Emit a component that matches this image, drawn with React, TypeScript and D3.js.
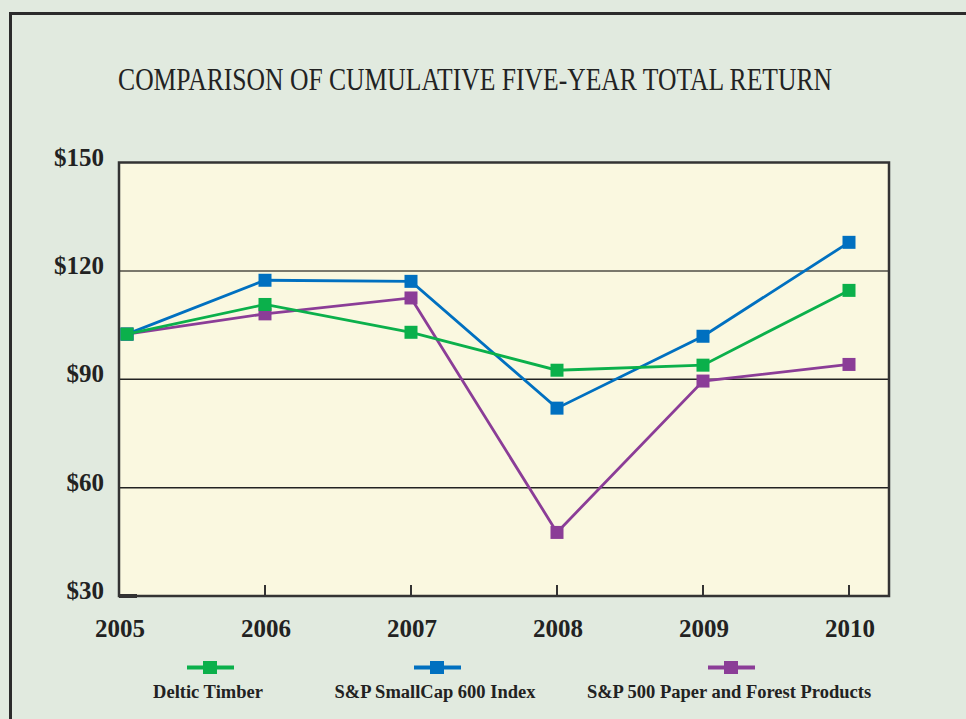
import React from "react";
import * as d3 from "d3";

// values (index, 2005 = base)
const years = ["2005", "2006", "2007", "2008", "2009", "2010"];
const deltic = [102.5, 110.7, 103.0, 92.5, 93.9, 114.6];
const smallCap = [102.5, 117.4, 117.1, 82.0, 101.9, 127.9];
const paper = [102.5, 108.1, 112.5, 47.6, 89.5, 94.1];
const yTicks = [30, 60, 90, 120, 150];

const series = [
  { name: "S&P 500 Paper and Forest Products", values: paper, color: "#8b3d97", legendX: 731 },
  { name: "S&P SmallCap 600 Index", values: smallCap, color: "#0070c0", legendX: 437 },
  { name: "Deltic Timber", values: deltic, color: "#0bb04b", legendX: 210 },
];

const W = 966;
const H = 719;
const left = 119;
const right = 889;
const top = 162.5;
const bottom = 596;

const App: React.FC = () => {
  const x = d3.scalePoint<string>().domain(years).range([left, 849]);
  const y = d3.scaleLinear().domain([30, 150]).range([bottom, top]);

  // first point sits just inside the frame, like the original
  const px = (yr: string) => Math.max(x(yr) as number, left + 8);

  const line = d3
    .line<number>()
    .x((_, i) => px(years[i]))
    .y((d) => y(d));

  const serif = "'Liberation Serif', 'DejaVu Serif', serif";

  return (
    <svg
      width={W}
      height={H}
      style={{ position: "absolute", left: 0, top: 0 }}
      fontFamily={serif}
    >
      <rect width={W} height={H} fill="#e1eadf" />
      {/* outer frame */}
      <line x1={9} x2={W} y1={13.5} y2={13.5} stroke="#2b2b2b" strokeWidth={3} />
      <line x1={10.5} x2={10.5} y1={12} y2={H} stroke="#2b2b2b" strokeWidth={3} />

      {/* condensed title */}
      <g transform="translate(475,90) scale(0.8,1)">
        <text x={0} y={0} textAnchor="middle" fontSize={32} fill="#222">
          COMPARISON OF CUMULATIVE FIVE-YEAR TOTAL RETURN
        </text>
      </g>

      {/* plot area */}
      <rect x={left} y={top} width={right - left} height={bottom - top} fill="#faf8e0" />

      {yTicks
        .filter((t) => t !== 30 && t !== 150)
        .map((t) => (
          <line
            key={t}
            x1={left}
            x2={right}
            y1={y(t)}
            y2={y(t)}
            stroke={t === 120 ? "#7a786c" : "#222"}
            strokeWidth={t === 120 ? 2 : 1.5}
          />
        ))}

      {years.slice(1).map((yr) => (
        <line
          key={yr}
          x1={x(yr)}
          x2={x(yr)}
          y1={bottom}
          y2={bottom - 11}
          stroke="#333"
          strokeWidth={2}
        />
      ))}
      <line x1={left} x2={left + 18} y1={bottom} y2={bottom} stroke="#333" strokeWidth={4} />

      <rect
        x={left}
        y={top}
        width={right - left}
        height={bottom - top}
        fill="none"
        stroke="#333"
        strokeWidth={2.5}
      />

      {series.map((s) => (
        <g key={s.name}>
          <path d={line(s.values) || ""} fill="none" stroke={s.color} strokeWidth={2.8} />
          {s.values.map((v, i) => (
            <rect
              key={i}
              x={px(years[i]) - 6.5}
              y={y(v) - 6.5}
              width={13}
              height={13}
              fill={s.color}
            />
          ))}
        </g>
      ))}

      {/* y labels */}
      {yTicks.map((t) => (
        <text
          key={t}
          x={104}
          y={y(t) + 3}
          textAnchor="end"
          fontSize={25}
          fontWeight="bold"
          fill="#222"
        >
          ${t}
        </text>
      ))}

      {/* x labels */}
      {years.map((yr) => (
        <text
          key={yr}
          x={(x(yr) as number) + 1}
          y={637}
          textAnchor="middle"
          fontSize={25}
          fontWeight="bold"
          fill="#222"
        >
          {yr}
        </text>
      ))}

      {/* legend */}
      {series.map((s) => (
        <g key={s.name}>
          <line
            x1={s.legendX - 23}
            x2={s.legendX + 24}
            y1={667.5}
            y2={667.5}
            stroke={s.color}
            strokeWidth={4}
          />
          <rect x={s.legendX - 7} y={661} width={14} height={13} fill={s.color} />
          <text
            x={s.legendX - 2}
            y={698}
            textAnchor="middle"
            fontSize={18.5}
            fontWeight="bold"
            fill="#222"
          >
            {s.name}
          </text>
        </g>
      ))}
    </svg>
  );
};

export default App;
